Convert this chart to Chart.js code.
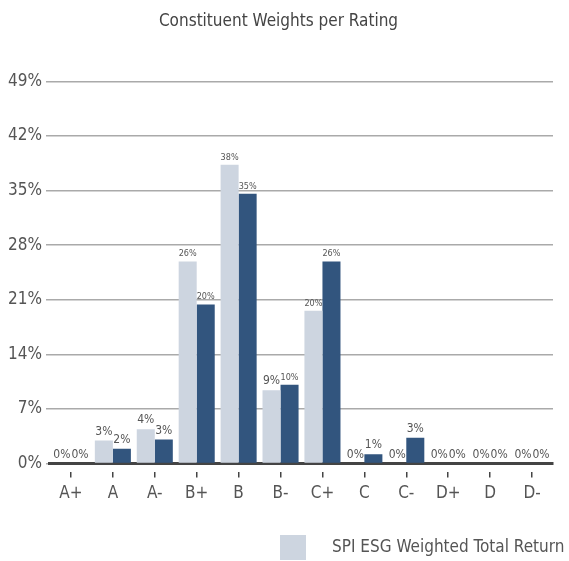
<!DOCTYPE html>
<html>
<head>
<meta charset="utf-8">
<script src="https://cdn.jsdelivr.net/npm/chart.js@4"></script>
<style>
  html, body { margin: 0; padding: 0; background: #fff; overflow: hidden; }
  #wrap { width: 569px; height: 561px; position: relative; }
</style>
</head>
<body>
<div id="wrap"><canvas id="chart"></canvas></div>
<script>
const FONT = "'DejaVu Sans Condensed', 'Open Sans', sans-serif";

const ratings = ["A+", "A", "A-", "B+", "B", "B-", "C+", "C", "C-", "D+", "D", "D-"];
const spiEsgWeighted = [0, 2.95, 4.4, 25.9, 38.3, 9.4, 19.6, 0, 0, 0, 0, 0];
const secondSeries = [0, 1.9, 3.1, 20.4, 34.6, 10.1, 25.9, 1.2, 3.3, 0, 0, 0];
const yTicks = [0, 7, 14, 21, 28, 35, 42, 49];

const legendName = "SPI ESG Weighted Total Return";
const lightColor = "#cdd5e0";
const darkColor = "#32557e";

// value labels on top of each bar
const barLabels = {
  id: "barLabels",
  afterDatasetsDraw(chart) {
    const ctx = chart.ctx;
    ctx.save();
    ctx.fillStyle = "#555";
    ctx.textAlign = "center";
    ctx.textBaseline = "bottom";
    chart.data.datasets.forEach((ds, i) => {
      chart.getDatasetMeta(i).data.forEach((bar, j) => {
        const txt = Math.round(ds.data[j]) + "%";
        const size = txt.length > 2 ? 9 : 12;
        ctx.font = size + "px " + FONT;
        ctx.fillText(txt, bar.x, bar.y - 3);
      });
    });
    ctx.restore();
  }
};

// legend, only the first entry fits in the picture
const legendBox = {
  id: "legendBox",
  afterDraw(chart) {
    const ctx = chart.ctx;
    ctx.save();
    ctx.fillStyle = lightColor;
    ctx.fillRect(280, 535, 26, 25);
    ctx.fillStyle = "#555";
    ctx.font = "17px " + FONT;
    ctx.textAlign = "left";
    ctx.textBaseline = "middle";
    ctx.fillText(legendName, 332, 548);
    ctx.restore();
  }
};

new Chart(document.getElementById("chart"), {
  type: "bar",
  data: {
    labels: ratings,
    datasets: [
      { label: legendName, data: spiEsgWeighted, backgroundColor: lightColor },
      { label: "Series 2", data: secondSeries, backgroundColor: darkColor }
    ]
  },
  options: {
    responsive: true,
    maintainAspectRatio: false,
    animation: false,
    categoryPercentage: 0.86,
    barPercentage: 1,
    layout: { padding: { left: 4, right: 16, bottom: 51 } },
    plugins: {
      legend: { display: false },
      tooltip: { enabled: false },
      title: {
        display: true,
        text: "Constituent Weights per Rating",
        color: "#444",
        font: { family: FONT, size: 17, weight: "normal" },
        padding: { top: 11, bottom: 50 }
      }
    },
    scales: {
      x: {
        grid: {
          display: true,
          drawOnChartArea: false,
          offset: false,
          color: "#444",
          lineWidth: 1.5,
          tickLength: 14,
          tickBorderDash: [0, 7, 7, 100]
        },
        border: { display: true, color: "#444", width: 3 },
        ticks: { color: "#555", font: { family: FONT, size: 17 }, padding: 6 }
      },
      y: {
        min: 0,
        max: 49,
        afterBuildTicks(scale) { scale.ticks = yTicks.map(v => ({ value: v })); },
        grid: { color: "#aaa", lineWidth: 1.5, tickLength: 4 },
        border: { display: false },
        ticks: {
          color: "#555",
          font: { family: FONT, size: 17 },
          padding: 4,
          callback: v => v + "%"
        }
      }
    }
  },
  plugins: [barLabels, legendBox]
});
</script>
</body>
</html>
